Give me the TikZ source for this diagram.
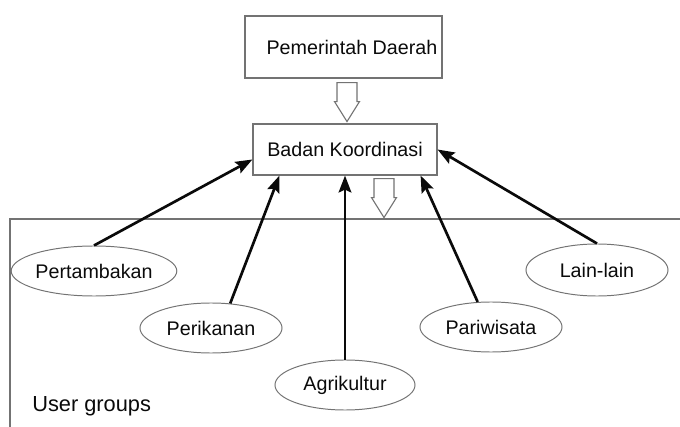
\documentclass[tikz,border=0pt]{standalone}
\usepackage{fontspec}
\setmainfont{Liberation Sans}
\usetikzlibrary{
  arrows.meta,
  calc,
  positioning,
  shapes.geometric,
}
\definecolor{cFrame}{RGB}{115,115,115}
\definecolor{cInk}{RGB}{10,10,10}
\newcommand{\labfont}{\fontsize{14}{16}\selectfont}
\tikzset{
  % Institution box
  inst/.style={
    rectangle, draw=cFrame, line width=0.8pt,
    minimum width=#1, minimum height=1.3cm,
    font=\labfont, text=cInk, align=center,
    inner sep=3pt,
  },
  % User group ellipse
  grp/.style={
    ellipse, draw=cFrame, line width=0.7pt,
    minimum width=3.55cm, minimum height=1.25cm,
    font=\labfont, text=cInk, inner sep=0pt,
  },
  % Arrow
  arr/.style={-{Stealth[length=12pt, width=9pt, inset=2pt]}, line width=1.9pt, color=cInk},
  % Hollow block arrow
  hollow/.style={draw=cFrame, line width=0.8pt, fill=white, line join=miter},
}
% hollow arrow pointing down, #1 = top centre
\newcommand{\hollowdown}[1]{%
  \draw[hollow] ($(#1)+(-10,0)$) -- ++(20,0) -- ++(0,19) -- ++(2.5,0)
    -- ++(-12.5,20) -- ++(-12.5,-20) -- ++(2.5,0) -- cycle;}

\begin{document}
\begin{tikzpicture}[x=0.025cm, y=-0.025cm]

\useasboundingbox (0,0) rectangle (680,427);

% ── Institutions ──────────────────────────────────────────────────────────────
\node[inst=4.925cm, minimum height=1.55cm] (pemda) at (343.5,47) {\hspace{12pt}Pemerintah Daerah};
\node[inst=4.6cm, minimum height=1.275cm] (badan) at (345,149.5) {Badan Koordinasi};

\coordinate (h1) at ($(pemda.south)+(3.5,4)$);
\coordinate (h2) at ($(badan.south)+(39,3)$);
\hollowdown{h1}
\hollowdown{h2}

% ── User groups frame ─────────────────────────────────────────────────────────
\coordinate (frameBL) at (10,430);
\coordinate (frameTR) at (681,219);
\draw[cFrame, line width=0.8pt] (frameBL) |- (frameTR);

\node[font=\fontsize{15.5}{18}\selectfont, text=cInk, anchor=base west, inner sep=0pt] (ug) at (32,411) {User groups};

% ── Groups ────────────────────────────────────────────────────────────────────
\node[grp] (pert) at (94,271)  {Pertambakan};
\node[grp] (peri) at (211,328) {Perikanan};
\node[grp, minimum width=3.5cm] (agri) at (345,385) {Agrikultur};
\node[grp] (pari) at (491,327) {Pariwisata};
\node[grp, minimum height=1.3cm] (lain) at (597,270) {Lain-lain};

% ── Links ─────────────────────────────────────────────────────────────────────
\draw[arr] (pert.north) -- ($(badan.west)+(0,10)$);
\draw[arr] (peri.52) -- ($(badan.south west)+(27,0)$);
\draw[arr] (agri.north) -- (badan.south);
\draw[arr] (pari.118) -- ($(badan.south east)+(-17,0)$);
\draw[arr] (lain.north) -- (badan.east);

\end{tikzpicture}
\end{document}
